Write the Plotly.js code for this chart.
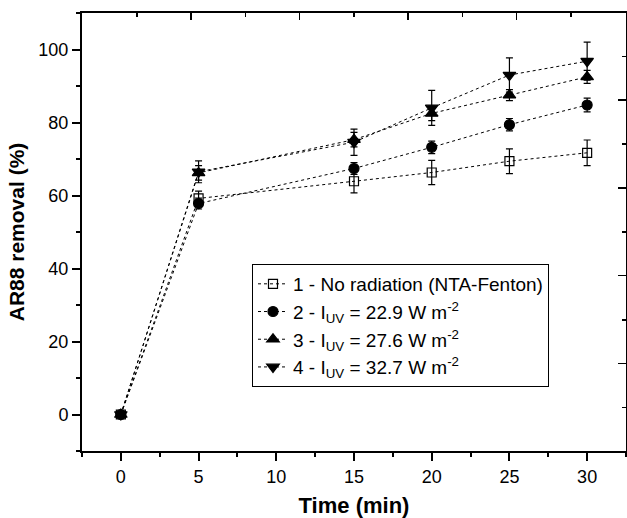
<!DOCTYPE html>
<html>
<head>
<meta charset="utf-8">
<script src="https://cdn.plot.ly/plotly-3.0.1.min.js"></script>
<style>html,body{margin:0;padding:0;background:#fff;}#chart{width:627px;height:518px;}</style>
</head>
<body>
<div id="chart"></div>
<script>
const time = [0, 5, 15, 20, 25, 30];
const names = [
  '1 - No radiation (NTA-Fenton)',
  '2 - I<sub>UV</sub> = 22.9 W m<sup>-2</sup>',
  '3 - I<sub>UV</sub> = 27.6 W m<sup>-2</sup>',
  '4 - I<sub>UV</sub> = 32.7 W m<sup>-2</sup>'
];
const s1 = [0, 59.2, 63.9, 66.3, 69.4, 71.7];
const e1 = [0.8, 2.0, 3.2, 3.3, 3.4, 3.5];
const s2 = [0, 57.8, 67.4, 73.2, 79.4, 84.8];
const e2 = [0.8, 1.5, 1.6, 1.7, 1.7, 1.9];
const s3 = [0, 66.2, 75.3, 82.5, 87.5, 92.5];
const e3 = [0.8, 2.0, 2.0, 2.0, 1.5, 1.8];
const s4 = [0, 66.5, 74.6, 84.0, 93.0, 96.8];
const e4 = [0.8, 3.0, 3.6, 4.8, 4.7, 5.2];
const xTicks = [0, 5, 10, 15, 20, 25, 30];
const yTicks = [0, 20, 40, 60, 80, 100];

const series = [s1, s2, s3, s4];
const errs = [e1, e2, e3, e4];
const symbols = ['square-open', 'circle', 'triangle-up', 'triangle-down'];
const sizes = [9, 10, 11, 11];

const traces = series.map((s, i) => ({
  x: time, y: s, name: names[i], type: 'scatter', mode: 'lines+markers',
  line: {color: '#000', width: 1, dash: 'dot'},
  marker: {symbol: symbols[i], size: sizes[i], color: '#000', line: {color: '#000', width: 1.2}},
  error_y: {type: 'data', array: errs[i], visible: true, color: '#000', thickness: 1.2, width: 3.5}
}));
traces.push({x: [], y: [], xaxis: 'x2', yaxis: 'y2', showlegend: false, hoverinfo: 'skip', type: 'scatter'});

const layout = {
  width: 627, height: 518,
  margin: {l: 82, r: 1, t: 13, b: 67},
  paper_bgcolor: '#fff', plot_bgcolor: '#fff',
  font: {family: 'Liberation Sans, Arial, sans-serif', color: '#000', size: 18},
  showlegend: true,
  legend: {
    x: 0.3125, y: 0.427, xanchor: 'left', yanchor: 'top',
    bordercolor: '#000', borderwidth: 1, bgcolor: '#fff',
    font: {size: 19}, tracegroupgap: 0
  },
  xaxis: {
    range: [-2.5, 32.5], tickmode: 'array', tickvals: xTicks, ticktext: xTicks.map(String),
    showline: true, linecolor: '#000', linewidth: 2, mirror: true,
    ticks: 'outside', ticklen: 8, tickwidth: 2, tickcolor: '#000',
    minor: {tickmode: 'linear', tick0: 2.5, dtick: 5, ticks: 'outside', ticklen: 4, tickwidth: 2, tickcolor: '#000'},
    showgrid: false, zeroline: false,
    title: {text: '<b>Time (min)</b>', font: {size: 22}, standoff: 12}
  },
  yaxis: {
    range: [-10, 110], tickmode: 'array', tickvals: yTicks, ticktext: yTicks.map(String),
    showline: true, linecolor: '#000', linewidth: 2, mirror: true,
    ticks: 'outside', ticklen: 8, tickwidth: 2, tickcolor: '#000',
    minor: {tickmode: 'linear', tick0: 10, dtick: 20, ticks: 'outside', ticklen: 4, tickwidth: 2, tickcolor: '#000'},
    showgrid: false, zeroline: false,
    title: {text: '<b>AR88 removal (%)</b>', font: {size: 21}, standoff: 8}
  },
  xaxis2: {
    overlaying: 'x', side: 'top', anchor: 'y', range: [-2.5, 32.5],
    tickmode: 'linear', tick0: 4.52, dtick: 6.98, ticks: 'inside', ticklen: 7, tickwidth: 1.5, tickcolor: '#000',
    minor: {tickmode: 'linear', tick0: 1.03, dtick: 6.98, ticks: 'inside', ticklen: 4, tickwidth: 1.5, tickcolor: '#000'},
    showticklabels: false, showgrid: false, zeroline: false, showline: false
  },
  yaxis2: {
    overlaying: 'y', side: 'right', anchor: 'x', range: [-10, 110],
    tickmode: 'linear', tick0: 14, dtick: 24.06, ticks: 'inside', ticklen: 8, tickwidth: 1.5, tickcolor: '#000',
    minor: {tickmode: 'linear', tick0: 1.9, dtick: 24.06, ticks: 'inside', ticklen: 4, tickwidth: 1.5, tickcolor: '#000'},
    showticklabels: false, showgrid: false, zeroline: false, showline: false
  }
};

Plotly.newPlot('chart', traces, layout, {displayModeBar: false, staticPlot: true});
</script>
</body>
</html>
